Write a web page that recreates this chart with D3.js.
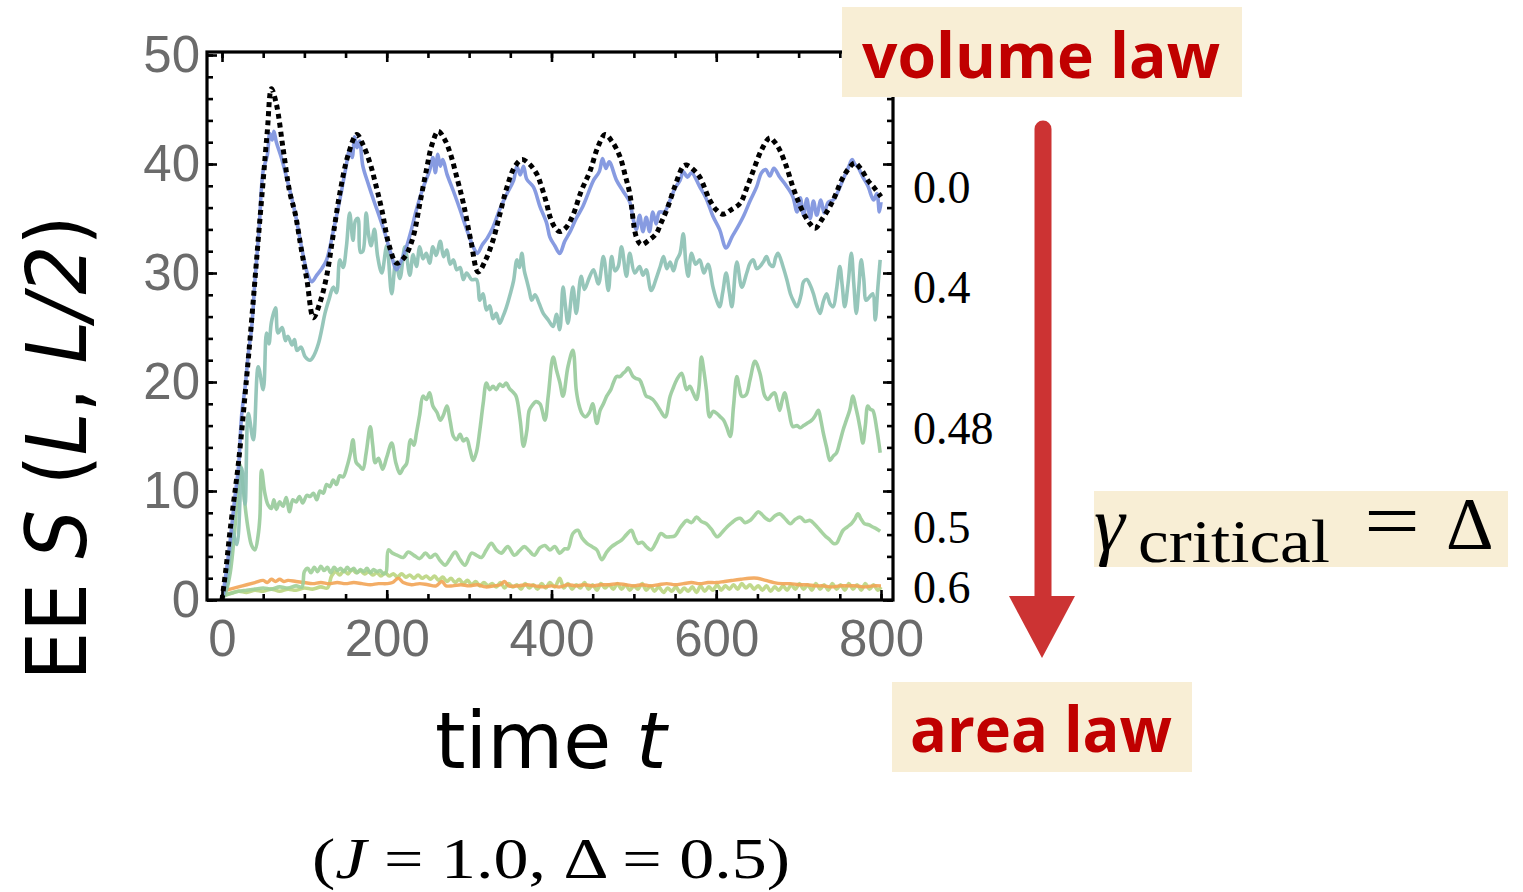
<!DOCTYPE html>
<html>
<head>
<meta charset="utf-8">
<script src="https://cdn.jsdelivr.net/npm/d3@7"></script>
<style>
  html, body { margin: 0; padding: 0; background: #fff; }
</style>
</head>
<body>
<script>
// entanglement entropy S(L, L/2) vs time t, one curve per gamma
// each series: [t, S] pairs

var blackRef = [[0,0],[5,3],[10,6.5],[20,12.6],[30,20.5],[36,25.7],[45,34],[50,38.5],[55,43],[60,46.9],[66,45.5],[74,41.5],[82,37.5],[89,35.4],[96,32.3],[103,29.4],[111,25.9],[119,27.3],[127,29.7],[135,33.5],[143,37.3],[153,40.8],[163.5,42.7],[171,41.8],[180,40],[187,38],[194,35.8],[203,32.5],[212,30.9],[222,31.5],[232,33.3],[240,36.3],[248,39.4],[255,41.8],[262.5,43],[270,42.3],[277,41],[285,38.8],[293,36.4],[302,33],[311,30.1],[320,31.2],[329,33],[337,35.3],[346,37.9],[355,39.7],[364,40.4],[373,40],[382,39.1],[388,37.9],[394,36.4],[398,35.2],[404,34.2],[410,33.8],[418,34.2],[426,35.3],[436,37.5],[447,39.4],[456,41.5],[465,42.7],[474,42],[483,40.7],[490,38.8],[495,37.3],[503,33.3],[509,32.6],[518,33],[527,33.6],[533,34.6],[540,35.8],[550,38],[560,39.8],[564,39.9],[572,39.5],[580,38.8],[592,36.7],[600,35.8],[608,35.4],[618,35.8],[629,36.4],[637,37.8],[645,39.4],[655,41.3],[665,42.4],[671,42],[677,41.3],[685,39.8],[693,37.9],[700,36.5],[708,35.2],[714,34.5],[720,34.1],[729,35],[738,36.1],[745,37.2],[752,38.5],[760,39.5],[768,40.1],[776,39.5],[784,38.5],[792,37.8],[800,37]];

var g00 = [[0,0],[5,2.5],[10,5.5],[15,9],[20,12.2],[24,17.1],[28,19.5],[32,22.6],[36,25],[40,29.3],[45,34],[50,39.4],[55,40.8],[58,42.8],[61,42.2],[63,43],[66,42],[72,40.6],[80,38.3],[89,35.4],[97,32.2],[104,29.9],[109,29.2],[115,29.8],[121,30.4],[127,31.2],[135,33.8],[143,36.7],[150,39.5],[155,41.3],[158,40.6],[161,42.5],[164,41.5],[167,42.1],[171,39.8],[177,38.3],[184,36.7],[191,35.2],[198,33.6],[205,31.8],[212,30.3],[218,31.2],[224,32.4],[230,34],[236,35.8],[244,37.8],[252,39.4],[256,40.6],[259,39.2],[262,40.9],[265,39.8],[268,40.4],[273,39.1],[281,37.5],[289,35.8],[297,34],[305,32.4],[310,31.8],[316,32.6],[322,33.2],[329,34.2],[337,35.8],[346,37.3],[354,38.5],[358,39.8],[362,39],[366,39.8],[370,38.6],[378,37.9],[386,36.1],[394,34.6],[398,33.3],[404,32.5],[410,31.8],[416,32.9],[422,33.7],[430,35],[438,36.1],[445,37.4],[451,38.5],[458,39.3],[462,40.5],[466,39.6],[470,40.2],[479,38.5],[487,37.5],[495,36.5],[499,35],[503,34],[507,35.3],[511,33.8],[515,35.1],[519,33.8],[523,35.6],[527,34.5],[531,35.6],[537,35.6],[544,36.7],[550,37.8],[556,38.5],[560,39.3],[565,38.8],[570,39.2],[580,37.9],[588,36.8],[596,35.2],[604,34],[612,32.3],[619,33.3],[626,34.2],[633,35.2],[641,36.6],[649,37.9],[655,39.2],[660,39.5],[665,38.9],[670,39.6],[677,38.8],[685,38],[693,37],[698,35.6],[702,36.9],[706,35.3],[710,36.8],[714,35],[718,36.6],[722,35.3],[727,36.7],[731,35.5],[736,36.5],[742,36.7],[748,37.5],[754,38.6],[760,39.6],[765,40.4],[768,40],[772,39.7],[778,38.8],[784,38],[791,36.7],[795,37.3],[798,35.6],[800,36.5]];

var g04 = [[0,0],[5,1.2],[10,4.5],[13,6.3],[18,5.1],[24,12.1],[28,8.8],[32,17.1],[38,14.7],[44,21.4],[50,19.3],[54,24.5],[57,23.5],[60,25.5],[65,26.8],[68,24.5],[73,25],[77,23.8],[80,24.2],[85,23.4],[88,23.9],[91,22.9],[96,23.2],[101,22.3],[107,22],[112,22.5],[117,23.5],[121,24.8],[125,26.3],[130,27.6],[135,28.7],[139,28.2],[143,31.2],[147,30.5],[151,32.4],[155,35.5],[159,33],[162,34.8],[165,35],[168,31.9],[171,32],[175,35.5],[178,33.5],[181,32.5],[185,34],[189,31.5],[194,30],[200,32.5],[206,28.1],[211,31],[216,29.5],[222,32.4],[228,29.8],[232,31.7],[236,30.6],[240,32.4],[244,31.3],[248,31.8],[252,30.9],[256,32.4],[260,31.6],[265,32.9],[269,31.5],[273,32.1],[277,30.8],[281,31.2],[285,30.3],[289,30.5],[293,29.4],[297,30],[303,29.4],[309,29.4],[313,27.5],[317,28.1],[321,26.6],[325,27],[329,25.8],[333,26.3],[337,25.4],[341,26],[345,26.8],[350,28.1],[354,29.3],[358,31.2],[361,30.5],[364,31.8],[367,30.2],[370,29.3],[373,28.4],[376,27.5],[380,28],[385,27.2],[390,26.3],[396,25.7],[402,25.1],[406,26.2],[410,24.8],[414,28.7],[417,26.9],[420,25.4],[426,28.7],[430,26.3],[436,29.7],[440,28.5],[446,29.6],[451,30.3],[457,29],[463,31.5],[469,28.4],[473,31.5],[477,30.2],[481,30.6],[485,32.4],[491,29.7],[495,31.8],[501,30],[507,30.6],[511,29.8],[515,30.3],[521,28.4],[528,29.7],[532,30.6],[536,31.5],[540,30.4],[544,31],[548,30.2],[552,31.2],[556,31.8],[560,33.6],[563,31],[566,29.7],[570,31.8],[575,30.8],[580,31.2],[585,30],[590,30.8],[596,28.7],[600,27.6],[604,26.9],[608,28.3],[612,30],[616,28.2],[619,26.9],[625,31],[631,28.7],[637,30],[641,30.9],[645,31.2],[649,30.4],[653,30.6],[657,31],[661,31.5],[665,30.8],[669,30.6],[672,31.4],[675,31.8],[681,30.6],[686,29.3],[690,28.1],[694,27.4],[698,26.9],[703,28],[706,29.2],[710,29.4],[714,28.9],[718,28.1],[722,27],[726,26.3],[730,27.4],[734,28.1],[738,27.2],[742,26.9],[746,28.5],[750,30.6],[753,28.8],[756,26.9],[760,29],[764,31.8],[767,29],[770,26.3],[773,28.6],[776,31.2],[779,29.5],[782,27.5],[786,27.8],[790,28.1],[793,25.7],[796,28.5],[799,31.2]];

var g048 = [[0,0],[5,0.8],[10,2.5],[15,6],[19,10],[22,12.4],[26,10.1],[29,8],[32,6.4],[36,5],[40,4.6],[44,6],[46,7.6],[48,11.9],[52,9.8],[56,8.7],[60,8.4],[63,9.2],[66,8.3],[70,9],[74,8.6],[78,9.4],[82,8.1],[86,9.2],[90,9],[94,9.5],[98,8.9],[103,9.6],[107,9.5],[111,9.8],[115,9.2],[119,10],[123,9.8],[127,10.6],[131,10.4],[135,11],[139,10.6],[143,11.4],[147,11.3],[152,12.3],[156,13.5],[159,14.7],[163,12.6],[167,12.3],[171,12],[175,13.5],[180,15.9],[183,14.2],[186,12.6],[190,13],[195,12],[200,13.1],[206,14.4],[211,12.6],[216,11.6],[220,12.1],[224,12.5],[229,14.7],[233,14.2],[236,15.3],[240,17],[244,18.7],[248,18.4],[252,19],[256,17.8],[261,17.2],[265,16.5],[269,17],[273,17.8],[277,16.4],[281,15],[285,14.7],[289,15.2],[293,14.6],[297,14.8],[301,13.8],[305,12.8],[309,13.6],[313,15.6],[317,18],[321,19.9],[325,19.3],[329,19.6],[333,19.3],[337,19.8],[341,19.6],[345,19.9],[349,19.4],[353,19.1],[357,18.7],[362,16.5],[366,14.1],[370,15.5],[373,17.4],[377,17.9],[381,18.2],[386,18],[392,16.5],[396,18.7],[402,22.3],[406,21.1],[410,20],[414,18.7],[420,21.4],[426,22.9],[430,19.3],[433,18],[437,17.1],[441,16.8],[446,17.2],[450,18],[455,16.2],[459,17.4],[463,18],[467,18.7],[472,19.3],[475,19.9],[479,20.5],[483,20.5],[487,20.8],[490,21],[493,21.3],[499,20.5],[503,20.3],[507,20.2],[511,19.5],[515,18.7],[519,18.6],[523,18.4],[528,17.9],[532,17.4],[538,16.8],[544,18.7],[548,19.5],[552,20.2],[558,20.8],[564,19.3],[568,19.6],[572,19],[576,18.4],[579,19.5],[582,22.3],[585,21],[588,19.3],[592,16.8],[596,17.3],[601,17.1],[605,16.8],[609,16.5],[613,15.8],[617,15],[621,17.8],[625,20.5],[628,19.5],[631,18.7],[636,18.8],[641,20.2],[647,21.9],[653,20.8],[659,18.7],[663,18.4],[667,18.8],[671,19],[674,18.2],[677,17.4],[680,18.3],[683,19],[688,17.4],[693,15.9],[698,16],[702,15.8],[706,16],[710,16.2],[716,16.5],[720,16.9],[724,17.4],[727,16.5],[730,15.3],[734,14],[738,12.8],[742,13.2],[746,13.5],[750,14.5],[754,15.6],[758,16.5],[762,17.4],[766,18.7],[769,17.8],[772,16.8],[775,15.6],[778,14.4],[781,16],[784,17.8],[787,17.5],[790,17.4],[795,15.6],[799,13.5]];

var g05 = [[0,0.3],[10,0.6],[20,0.8],[30,0.9],[40,1.0],[50,1.1],[60,1.0],[70,1.2],[80,1.1],[90,1.3],[97,1.2],[100,2.6],[104,2.9],[108,2.5],[112,3],[116,2.6],[120,3.1],[124,2.7],[128,3],[132,2.5],[136,3],[140,2.7],[144,2.9],[148,2.6],[152,3],[156,2.7],[160,2.9],[164,2.5],[168,2.8],[172,2.6],[176,2.9],[180,2.5],[184,2.8],[188,2.6],[192,2.7],[196,2.4],[199,2.5],[202,4.6],[207,4.3],[213,4.1],[220,3.9],[226,4.4],[233,4.1],[240,3.8],[247,4.3],[253,3.9],[259,4.2],[265,3.6],[271,3.2],[277,3.8],[283,4.4],[289,3.7],[295,3.2],[303,4.3],[309,4.1],[315,3.9],[321,4.6],[327,5.2],[333,4.6],[339,4.3],[347,4.9],[355,4.1],[361,4.5],[367,4.9],[373,4.5],[379,4.1],[386,4.8],[392,5],[398,4.6],[404,4.9],[410,4.3],[416,4.7],[420,4.7],[426,6.1],[432,6.4],[437,5.7],[443,5.2],[449,4.9],[455,4.6],[461,3.7],[467,4.4],[473,4.9],[479,5.2],[485,5.5],[491,6],[497,6.4],[501,5.7],[505,5.2],[510,5.3],[515,4.9],[521,4.6],[527,5.3],[533,6.1],[539,5.8],[544,5.8],[550,5.9],[556,6.6],[560,7],[564,7.3],[570,7.1],[576,7.6],[582,7.2],[588,7],[594,6.5],[601,5.8],[607,6.2],[613,6.7],[619,7.1],[624,7.4],[629,7.5],[635,7.1],[641,7.3],[646,7.7],[651,8.1],[656,7.8],[660,7.5],[665,7.3],[671,7.7],[677,7.9],[683,7.5],[690,7],[696,7.4],[702,7.6],[708,7.2],[714,7.3],[720,6.9],[726,6.4],[732,5.9],[738,5.5],[742,5.2],[746,5.2],[750,5.8],[754,6.4],[759,6.7],[764,7],[768,7.4],[772,7.9],[776,7.4],[780,7],[785,6.9],[790,6.7],[795,6.5],[799,6.3]];

var g055 = [[0,0.5],[10,0.6],[20,0.8],[30,0.7],[40,0.9],[50,0.8],[60,1.0],[70,0.8],[80,1.0],[90,0.9],[100,1.1],[110,1.0],[120,1.2],[128,1.1],[133,2.2],[138,2.6],[143,2.3],[148,2.7],[153,2.4],[158,2.8],[163,2.5],[168,2.7],[173,2.4],[178,2.6],[183,2.3],[188,2.5],[193,2.2],[198,2.5],[203,2.2],[208,2.4],[213,2.1],[218,2.4],[223,2.1],[228,2.3],[233,2.0],[238,2.3],[243,2.0],[248,2.2],[253,1.9],[258,2.2],[263,1.8],[268,2.1],[273,1.7],[278,2.0],[283,1.6],[288,1.9],[293,1.5],[298,1.8],[303,1.4],[308,1.7],[313,1.3],[318,1.6],[323,1.3],[328,1.5],[333,1.2],[338,1.6],[343,1.1],[348,1.5],[353,1.2],[358,1.4],[363,1.0],[368,1.5],[373,1.1],[378,1.4],[383,1.0],[388,1.5],[393,1.1],[398,1.6],[404,1.2],[410,2.0],[415,1.1],[420,1.5],[425,1.0],[430,1.4],[435,1.1],[440,1.6],[445,1.0],[450,1.4],[455,0.9],[460,1.5],[465,1.1],[470,1.4],[475,1.0],[480,1.5],[485,1.0],[490,1.4],[495,0.9],[500,1.3],[505,1.0],[510,1.5],[515,0.9],[520,1.3],[525,0.8],[530,1.2],[536,0.7],[541,1.1],[546,0.8],[551,1.2],[556,0.7],[561,1.1],[566,0.8],[571,1.2],[576,0.7],[581,1.3],[586,0.8],[591,1.2],[596,0.9],[601,1.4],[606,0.9],[611,1.3],[616,1.0],[621,1.4],[626,1.0],[631,1.5],[636,1.1],[641,1.4],[646,1.0],[651,1.3],[656,0.9],[661,1.3],[666,0.8],[671,1.2],[676,0.9],[681,1.3],[686,0.9],[691,1.4],[696,1.0],[701,1.5],[706,1.0],[711,1.4],[716,0.9],[721,1.5],[726,1.0],[731,1.4],[736,0.9],[741,1.5],[746,1.0],[751,1.4],[756,0.9],[761,1.5],[766,1.0],[771,1.4],[776,0.9],[781,1.5],[786,1.0],[791,1.4],[796,0.9],[800,1.2]];

var g06 = [[0,0.8],[10,1.0],[20,1.2],[30,1.4],[40,1.6],[50,1.8],[55,1.6],[60,1.9],[65,1.7],[70,1.9],[75,1.7],[80,1.8],[90,1.7],[100,1.6],[110,1.5],[120,1.6],[130,1.5],[140,1.6],[150,1.5],[160,1.6],[170,1.5],[180,1.4],[190,1.5],[200,1.5],[207,1.6],[214,2.0],[220,1.6],[230,1.4],[240,1.5],[250,1.4],[260,1.3],[267,1.7],[272,1.3],[280,1.3],[290,1.4],[300,1.3],[310,1.4],[320,1.2],[330,1.3],[338,1.4],[343,1.7],[348,1.3],[360,1.3],[370,1.4],[380,1.3],[390,1.2],[400,1.3],[410,1.2],[420,1.4],[430,1.3],[440,1.4],[450,1.3],[460,1.4],[470,1.4],[480,1.5],[490,1.4],[500,1.3],[510,1.4],[520,1.3],[530,1.4],[540,1.5],[550,1.4],[560,1.5],[570,1.6],[580,1.5],[590,1.6],[600,1.6],[610,1.7],[620,1.8],[630,1.9],[640,2.0],[650,2.0],[660,1.8],[670,1.6],[680,1.5],[690,1.5],[700,1.4],[710,1.4],[720,1.3],[730,1.3],[740,1.2],[750,1.3],[760,1.3],[770,1.3],[780,1.2],[790,1.3],[800,1.3]];

var xTicks = [0, 200, 400, 600, 800];
var yTicks = [0, 10, 20, 30, 40, 50];
var gammaNames = ["0.0", "0.4", "0.48", "0.5", "0.6"];
var gammaNameAt = [37.9, 28.7, 15.8, 6.7, 1.2];

var W = 1523, H = 892;
var svg = d3.select("body").append("svg").attr("width", W).attr("height", H)
  .style("display", "block").style("background", "#fff");

var x = d3.scaleLinear().domain([0, 800]).range([222, 881]);
var y = d3.scaleLinear().domain([0, 50]).range([600, 55]);
var fl = 207, fr = 893, ft = 52, fb = 600;

svg.append("clipPath").attr("id", "clip").append("rect")
  .attr("x", fl).attr("y", ft).attr("width", fr - fl).attr("height", fb - ft);

var line = d3.line().x(function(d) { return x(d[0]); }).y(function(d) { return y(d[1]); })
  .curve(d3.curveCatmullRom.alpha(0.5));

var plot = svg.append("g").attr("clip-path", "url(#clip)");

var series = [
  { data: g055, color: "#bad580", w: 3.6 },
  { data: g06, color: "#f2a455", w: 3.4 },
  { data: g05, color: "#9fcf98", w: 3.6 },
  { data: g048, color: "#97ca9a", w: 3.6 },
  { data: g04, color: "#8bc0b3", w: 3.6 },
  { data: g00, color: "#7a90de", w: 3.6 }
];
series.forEach(function(s) {
  plot.append("path").attr("d", line(s.data)).attr("fill", "none")
    .attr("stroke", s.color).attr("stroke-width", s.w).attr("stroke-opacity", 0.9)
    .attr("stroke-linejoin", "round");
});
plot.append("path").attr("d", line(blackRef)).attr("fill", "none")
  .attr("stroke", "#000").attr("stroke-width", 5).attr("stroke-dasharray", "5,4");

// frame + inward ticks on all sides
function ticks(axis, tr, vals, size) {
  svg.append("g").attr("transform", tr)
    .call(axis.tickValues(vals).tickSize(size).tickFormat(""))
    .call(function(g) { g.select(".domain").remove(); })
    .selectAll("line").attr("stroke", "#000").attr("stroke-width", 2.6);
}
var xMinor = d3.range(0, 801, 50), yMinor = d3.range(0, 51, 2);
ticks(d3.axisBottom(x), "translate(0," + fb + ")", xMinor, -6);
ticks(d3.axisBottom(x), "translate(0," + fb + ")", xTicks, -10);
ticks(d3.axisTop(x), "translate(0," + ft + ")", xMinor, -6);
ticks(d3.axisTop(x), "translate(0," + ft + ")", xTicks, -10);
ticks(d3.axisLeft(y), "translate(" + fl + ",0)", yMinor, -6);
ticks(d3.axisLeft(y), "translate(" + fl + ",0)", yTicks, -10);
ticks(d3.axisRight(y), "translate(" + fr + ",0)", yMinor, -6);
ticks(d3.axisRight(y), "translate(" + fr + ",0)", yTicks, -10);

svg.append("rect").attr("x", fl).attr("y", ft).attr("width", fr - fl).attr("height", fb - ft)
  .attr("fill", "none").attr("stroke", "#000").attr("stroke-width", 3.2);

// tick labels
var gx = svg.append("g").attr("transform", "translate(0," + fb + ")")
  .call(d3.axisBottom(x).tickValues(xTicks).tickSize(0).tickPadding(20).tickFormat(d3.format("d")));
var gy = svg.append("g").attr("transform", "translate(" + fl + ",0)")
  .call(d3.axisLeft(y).tickValues(yTicks).tickSize(0).tickPadding(7).tickFormat(d3.format("d")));
[gx, gy].forEach(function(g) {
  g.select(".domain").remove();
  g.selectAll("text").attr("fill", "#6b6b6b").style("font-family", "Liberation Sans, Arial, sans-serif")
    .style("font-size", "51px");
});

// gamma values on the right
svg.append("g").selectAll("text").data(gammaNames).join("text")
  .attr("x", 913).attr("y", function(d, i) { return y(gammaNameAt[i]); }).attr("dy", "0.35em")
  .style("font-family", "Liberation Serif, serif").style("font-size", "46px").attr("fill", "#000")
  .text(function(d) { return d; });

// axis titles
var yl = svg.append("text").attr("transform", "translate(86,448) rotate(-90)")
  .attr("text-anchor", "middle").style("font-family", "DejaVu Sans, sans-serif").style("font-size", "84px")
  .attr("textLength", 465).attr("lengthAdjust", "spacingAndGlyphs");
yl.append("tspan").text("EE ");
yl.append("tspan").style("font-style", "italic").text("S");
yl.append("tspan").text(" (");
yl.append("tspan").style("font-style", "italic").text("L");
yl.append("tspan").text(", ");
yl.append("tspan").style("font-style", "italic").text("L/2");
yl.append("tspan").text(")");

var xl = svg.append("text").attr("x", 435).attr("y", 768)
  .style("font-family", "DejaVu Sans, sans-serif").style("font-size", "78px");
xl.append("tspan").text("time ");
xl.append("tspan").style("font-style", "italic").text("t");

var sub = svg.append("text").attr("x", 312).attr("y", 878)
  .style("font-family", "Liberation Serif, serif").style("font-size", "58px")
  .attr("textLength", 478).attr("lengthAdjust", "spacingAndGlyphs");
sub.append("tspan").text("(");
sub.append("tspan").style("font-style", "italic").text("J");
sub.append("tspan").text(" = 1.0, \u0394 = 0.5)");

// volume law -> area law arrow
var beige = "#f8eed5", red = "#c00000";
svg.append("rect").attr("x", 842).attr("y", 7).attr("width", 400).attr("height", 90).attr("fill", beige);
svg.append("text").attr("x", 862).attr("y", 78).text("volume law").attr("fill", red)
  .style("font-family", "Open Sans, sans-serif").style("font-weight", 700).style("font-size", "62px")
  .attr("textLength", 358).attr("lengthAdjust", "spacingAndGlyphs");
svg.append("rect").attr("x", 892).attr("y", 682).attr("width", 300).attr("height", 90).attr("fill", beige);
svg.append("text").attr("x", 910).attr("y", 752).text("area law").attr("fill", red)
  .style("font-family", "Open Sans, sans-serif").style("font-weight", 700).style("font-size", "62px")
  .attr("textLength", 262).attr("lengthAdjust", "spacingAndGlyphs");

svg.append("line").attr("x1", 1043).attr("x2", 1043).attr("y1", 129).attr("y2", 600)
  .attr("stroke", "#cc3333").attr("stroke-width", 17).attr("stroke-linecap", "round");
svg.append("path").attr("d", "M1009,596 L1075,596 L1042,658 Z").attr("fill", "#cc3333");

// gamma_critical = Delta
svg.append("rect").attr("x", 1094).attr("y", 491).attr("width", 414).attr("height", 76).attr("fill", beige);
var gc = svg.append("g").style("font-family", "Liberation Serif, serif").attr("fill", "#000");
gc.append("text").attr("x", 1094).attr("y", 550).style("font-size", "78px").style("font-style", "italic").text("\u03b3");
gc.append("text").attr("x", 1138).attr("y", 562).style("font-size", "62px").text("critical")
  .attr("textLength", 192).attr("lengthAdjust", "spacingAndGlyphs");
gc.append("text").attr("x", 1364).attr("y", 548).style("font-size", "80px").text("=")
  .attr("textLength", 56).attr("lengthAdjust", "spacingAndGlyphs");
gc.append("text").attr("x", 1446).attr("y", 549).style("font-size", "74px").text("\u0394");
</script>
</body>
</html>
